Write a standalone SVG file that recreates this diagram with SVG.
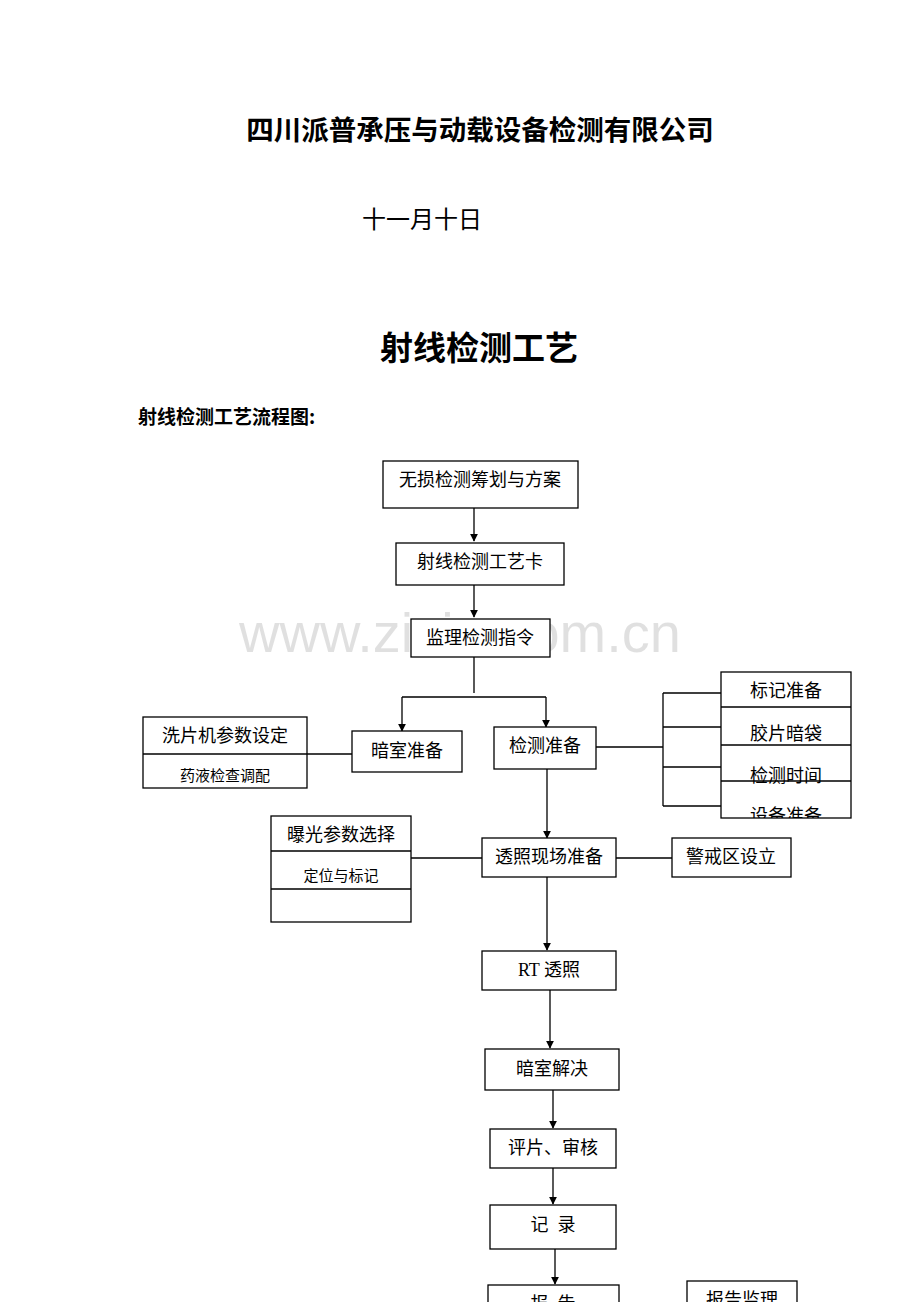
<svg xmlns="http://www.w3.org/2000/svg" width="920" height="1302" viewBox="0 0 920 1302">
<style>
.b{fill:#fff;stroke:#000;stroke-width:1.3}
.l{fill:none;stroke:#000;stroke-width:1.3}
.t{font-family:"Liberation Serif","Noto Sans CJK SC",serif;font-size:18px;text-anchor:middle;fill:#000}
.s{font-size:15px}
.h{font-family:"Noto Sans CJK SC",sans-serif;font-weight:bold;fill:#000}
</style>
<defs>
<marker id="a" viewBox="0 0 10 10" refX="9" refY="5" markerWidth="8" markerHeight="8" markerUnits="userSpaceOnUse" orient="auto"><path d="M0,0L10,5L0,10z"/></marker>
<clipPath id="c1"><rect x="721" y="672" width="130" height="146"/></clipPath>
</defs>
<rect width="920" height="1302" fill="#fff"/>
<text class="h" x="480" y="140" font-size="27.5" text-anchor="middle">四川派普承压与动载设备检测有限公司</text>
<text x="362" y="228" font-family="Liberation Serif,'Noto Sans CJK SC',serif" font-size="24">十一月十日</text>
<text class="h" x="479" y="360" font-size="33" text-anchor="middle">射线检测工艺</text>
<text class="h" x="138" y="424" font-size="19">射线检测工艺流程图:</text>
<text x="460" y="652" font-family="Liberation Sans,sans-serif" font-size="56" fill="#000" fill-opacity="0.12" text-anchor="middle">www.zixin.com.cn</text>
<g id="connectors">
<path class="l" d="M474,508V541" marker-end="url(#a)"/>
<path class="l" d="M474,585V617" marker-end="url(#a)"/>
<path class="l" d="M474,657V693M402,697H546"/>
<path class="l" d="M402,697V731" marker-end="url(#a)"/>
<path class="l" d="M546,697V727" marker-end="url(#a)"/>
<path class="l" d="M307,754H352M596,747H663M663,693V806M663,693H721M663,727H721M663,767H721M663,806H721"/>
<path class="l" d="M547,769V838" marker-end="url(#a)"/>
<path class="l" d="M411,858H482M616,858H672"/>
<path class="l" d="M547,877V950" marker-end="url(#a)"/>
<path class="l" d="M550,990V1048" marker-end="url(#a)"/>
<path class="l" d="M553,1090V1128" marker-end="url(#a)"/>
<path class="l" d="M553,1168V1204" marker-end="url(#a)"/>
<path class="l" d="M555,1249V1284" marker-end="url(#a)"/>
</g>
<g id="n1"><rect class="b" x="383" y="461" width="195" height="47"/><text class="t" x="480" y="486">无损检测筹划与方案</text></g>
<g id="n2"><rect class="b" x="396" y="543" width="168" height="42"/><text class="t" x="480" y="568">射线检测工艺卡</text></g>
<g id="n3"><rect class="b" x="411" y="619" width="139" height="38"/><text class="t" x="480" y="644">监理检测指令</text></g>
<g id="n4"><rect class="b" x="143" y="717" width="164" height="71"/><path class="l" d="M143,754H307"/><text class="t" x="225" y="742">洗片机参数设定</text><text class="t s" x="225" y="781">药液检查调配</text></g>
<g id="n5"><rect class="b" x="352" y="731" width="110" height="41"/><text class="t" x="407" y="757">暗室准备</text></g>
<g id="n6"><rect class="b" x="494" y="727" width="102" height="42"/><text class="t" x="545" y="752">检测准备</text></g>
<g id="n7"><rect class="b" x="721" y="672" width="130" height="146"/><g clip-path="url(#c1)"><text class="t" x="786" y="697">标记准备</text><text class="t" x="786" y="740">胶片暗袋</text><text class="t" x="786" y="782">检测时间</text><text class="t" x="786" y="822">设备准备</text></g><path class="l" d="M721,707H851M721,745H851M721,781H851"/></g>
<g id="n8"><rect class="b" x="271" y="816" width="140" height="106"/><path class="l" d="M271,851H411M271,889H411"/><text class="t" x="341" y="841">曝光参数选择</text><text class="t s" x="341" y="881">定位与标记</text></g>
<g id="n9"><rect class="b" x="482" y="838" width="134" height="39"/><text class="t" x="549" y="863">透照现场准备</text></g>
<g id="n10"><rect class="b" x="672" y="838" width="119" height="39"/><text class="t" x="731" y="863">警戒区设立</text></g>
<g id="n11"><rect class="b" x="482" y="951" width="134" height="39"/><text class="t" x="549" y="976">RT 透照</text></g>
<g id="n12"><rect class="b" x="485" y="1049" width="134" height="41"/><text class="t" x="552" y="1075">暗室解决</text></g>
<g id="n13"><rect class="b" x="490" y="1129" width="126" height="39"/><text class="t" x="553" y="1154">评片、审核</text></g>
<g id="n14"><rect class="b" x="490" y="1205" width="126" height="44"/><text class="t" x="553" y="1231" xml:space="preserve">记  录</text></g>
<g id="n15"><rect class="b" x="488" y="1285" width="131" height="40"/><text class="t" x="553" y="1310" xml:space="preserve">报  告</text></g>
<g id="n16"><rect class="b" x="687" y="1281" width="110" height="40"/><text class="t" x="742" y="1306">报告监理</text></g>
</svg>
